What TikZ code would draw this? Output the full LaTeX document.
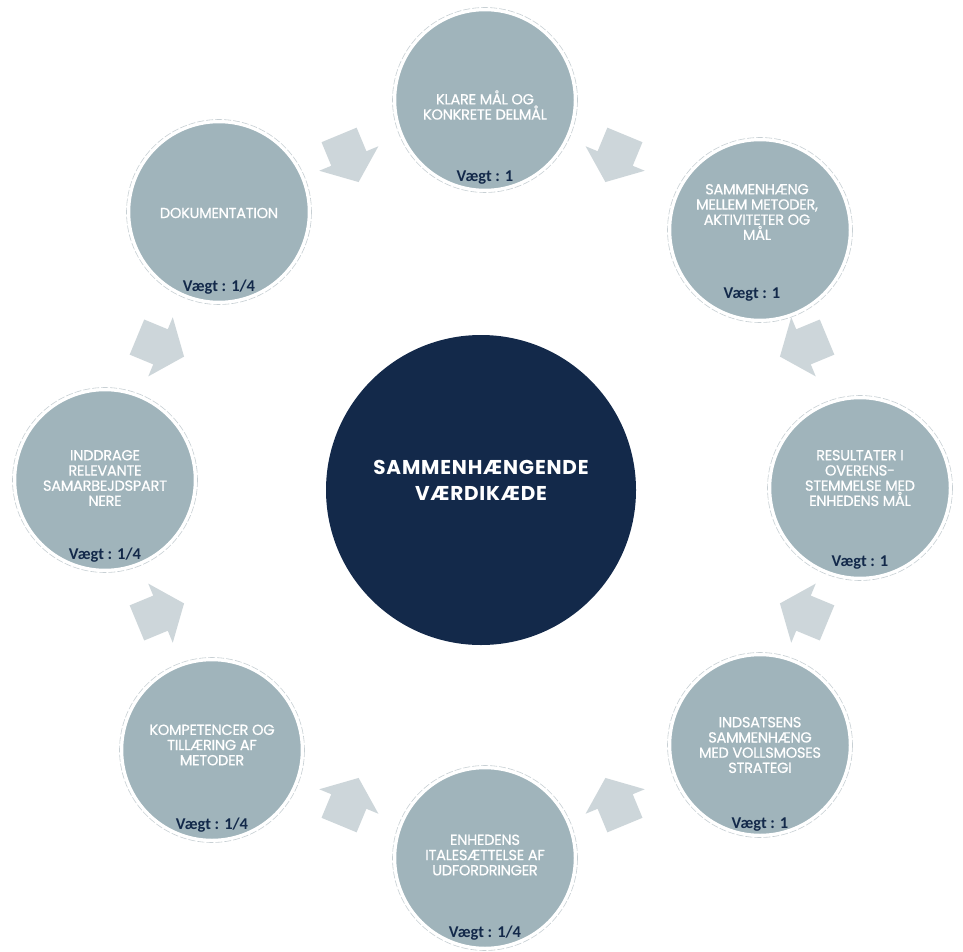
\documentclass[tikz,border=0pt]{standalone}
\usepackage{fontspec}
\newfontfamily\gothic{Poppins}
\newfontfamily\calib{Carlito}
\usetikzlibrary{calc}
\definecolor{ringfill}{RGB}{160,180,187}
\definecolor{arrowfill}{RGB}{205,214,218}
\definecolor{navy}{RGB}{19,41,74}
\definecolor{halogray}{RGB}{200,208,212}
\begin{document}
\begin{tikzpicture}[x=1pt,y=-1pt,
  outer/.style={circle, fill=ringfill, draw=white, line width=2.5pt, minimum size=180pt, inner sep=0pt},
  halo/.style={draw=halogray, line width=0.6pt, dash pattern=on 7pt off 2pt},
  hub/.style={circle, fill=navy, minimum size=310pt, inner sep=0pt},
  lbl/.style={text=white, align=center, font={\gothic\addfontfeature{FakeBold=0.6,LetterSpace=-2}\fontsize{14.6}{15.2}\selectfont}},
  hublbl/.style={text=white, align=center, font={\gothic\bfseries\addfontfeature{LetterSpace=4}\fontsize{20}{26}\selectfont}},
  wt/.style={text=navy, font={\calib\bfseries\fontsize{16.5}{18}\selectfont}},
  blockarrow/.style={fill=arrowfill}
]
\useasboundingbox (0,0) rectangle (963,952);
\fill[white] (0,0) rectangle (963,952);
\coordinate (O) at (482,480);

% block arrows pointing to the centre
\foreach \a in {22.5,67.5,112.5,157.5,202.5,247.5,292.5,337.5}{
  \begin{scope}[shift={($(O)+({348*cos(\a)},{-348*sin(\a)})$)}, rotate=\a+180]
    \fill[blockarrow] (-25.5,-19) -- (0,-19) -- (0,-32) -- (25.5,0) -- (0,32) -- (0,19) -- (-25.5,19) -- cycle;
  \end{scope}
}

% centre
\node[hub] (hub) at (481,490) {};
\node[hublbl] (hubtext) at ($(hub)+(0,-10)$) {SAMMENHÆNGENDE\\VÆRDIKÆDE};

% outer circles
\node[outer] (c1) at (485,100) {};
\node[outer] (c2) at (760,230) {};
\node[outer] (c3) at (860,488) {};
\node[outer] (c4) at (760,745) {};
\node[outer] (c5) at (485,858) {};
\node[outer] (c6) at (212,750) {};
\node[outer] (c7) at (105,480) {};
\node[outer] (c8) at (219,212) {};
\foreach \c in {c1,c2,c3,c4,c5,c6,c7,c8}{
  \draw[halo] (\c.center) circle[radius=92.5];
}

% labels
\node[lbl] (t1) at ($(c1)+(0,5)$) {KLARE MÅL OG\\KONKRETE DELMÅL};
\node[lbl] (t2) at ($(c2)+(-3,-18)$) {SAMMENHÆNG\\MELLEM METODER,\\AKTIVITETER OG\\MÅL};
\node[lbl] (t3) at ($(c3)+(0,-10)$) {RESULTATER I\\OVERENS-\\STEMMELSE MED\\ENHEDENS MÅL};
\node[lbl] (t4) at ($(c4)+(0,0)$) {INDSATSENS\\SAMMENHÆNG\\MED VOLLSMOSES\\STRATEGI};
\node[lbl] (t5) at ($(c5)+(0,-3)$) {ENHEDENS\\ITALESÆTTELSE AF\\UDFORDRINGER};
\node[lbl] (t6) at ($(c6)+(0,-5)$) {KOMPETENCER OG\\TILLÆRING AF\\METODER};
\node[lbl] (t7) at ($(c7)+(0,-2)$) {INDDRAGE\\RELEVANTE\\SAMARBEJDSPART\\NERE};
\node[lbl] (t8) at ($(c8)+(0,1)$) {DOKUMENTATION};

% weights
\node[wt] (w1) at ($(c1)+(0,78)$) {Vægt : 1};
\node[wt] (w2) at ($(c2)+(-8,65)$) {Vægt : 1};
\node[wt] (w3) at ($(c3)+(0,75)$) {Vægt : 1};
\node[wt] (w4) at ($(c4)+(0,80)$) {Vægt : 1};
\node[wt] (w5) at ($(c5)+(0,75)$) {Vægt : 1/4};
\node[wt] (w6) at ($(c6)+(0,75)$) {Vægt : 1/4};
\node[wt] (w7) at ($(c7)+(0,75)$) {Vægt : 1/4};
\node[wt] (w8) at ($(c8)+(0,75)$) {Vægt : 1/4};
\end{tikzpicture}
\end{document}
